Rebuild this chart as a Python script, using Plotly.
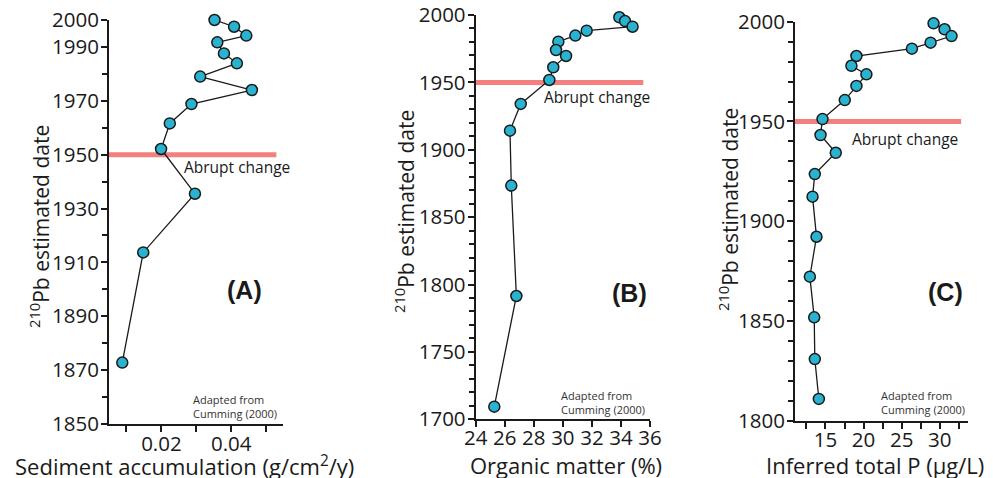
import plotly.graph_objects as go

# ---- Data ----
sed_acc = [0.0352, 0.0408, 0.0443, 0.0360, 0.0379, 0.0416, 0.0311, 0.0459,
           0.0286, 0.0224, 0.0199, 0.0296, 0.0148, 0.0088]
sed_year = [2000, 1997.5, 1994.2, 1991.7, 1987.6, 1983.9, 1979, 1974,
            1968.8, 1961.6, 1952.1, 1935.5, 1913.7, 1872.8]

org_matter = [33.89, 34.28, 34.80, 31.64, 30.86, 29.69, 29.53, 30.22,
              29.34, 29.07, 27.10, 26.36, 26.45, 26.80, 25.28]
org_year = [1998.3, 1995.5, 1991.3, 1988.4, 1984.7, 1980.2, 1974, 1969.6,
            1961.2, 1951.8, 1934, 1914.2, 1873.4, 1791.5, 1709.4]

tp = [29.18, 30.62, 31.54, 28.79, 26.34, 19.06, 18.40, 20.37, 19.06, 17.53,
      14.61, 14.35, 16.35, 13.60, 13.30, 13.82, 12.95, 13.52, 13.60, 14.13]
tp_year = [1999.2, 1996.2, 1992.8, 1989.5, 1986.5, 1982.8, 1977.9, 1973.6,
           1967.8, 1960.7, 1951.2, 1943.2, 1934.3, 1923.6, 1912.3, 1892.2,
           1872.2, 1851.8, 1830.9, 1810.9]

abrupt_year = 1950
abrupt_x_a = [0.005, 0.0529]
abrupt_x_b = [24, 35.54]
abrupt_x_c = [11, 32.8]

yticks_a = [1850, 1870, 1890, 1910, 1930, 1950, 1970, 1990, 2000]
xticks_a = [0.02, 0.04]
xticklabels_a = ["0.02", "0.04"]
yticks_b = [1700, 1750, 1800, 1850, 1900, 1950, 2000]
xticks_b = [24, 26, 28, 30, 32, 34, 36]
yticks_c = [1800, 1850, 1900, 1950, 2000]
xticks_c = [15, 20, 25, 30]

# ---- Styling ----
OFF = 8  # page body margin
W, H = 993 - OFF, 478 - OFF
FONT = "Open Sans"
AXC = "#1a1a1a"
MARK = "#29B3D1"
RED = "#F47F7F"


def px(x):
    return (x - OFF) / W


def py(y):
    return 1 - (y - OFF) / H


fig = go.Figure()

panels = [
    dict(x=sed_acc, y=sed_year, rx=abrupt_x_a, xa="x", ya="y"),
    dict(x=org_matter, y=org_year, rx=abrupt_x_b, xa="x2", ya="y2"),
    dict(x=tp, y=tp_year, rx=abrupt_x_c, xa="x3", ya="y3"),
]

for p in panels:
    fig.add_trace(go.Scatter(x=p["rx"], y=[abrupt_year, abrupt_year], mode="lines",
                             line=dict(color=RED, width=5), xaxis=p["xa"], yaxis=p["ya"],
                             hoverinfo="skip", showlegend=False, cliponaxis=False))
    fig.add_trace(go.Scatter(x=p["x"], y=p["y"], mode="lines+markers",
                             line=dict(color=AXC, width=1.3),
                             marker=dict(size=11, color=MARK, line=dict(color=AXC, width=1.5)),
                             xaxis=p["xa"], yaxis=p["ya"], showlegend=False, cliponaxis=False))

tickfont = dict(family=FONT, size=20.5, color=AXC)
common = dict(showline=True, linecolor=AXC, linewidth=2, ticks="outside", ticklen=6,
              tickwidth=1.5, tickcolor=AXC, showgrid=False, zeroline=False,
              tickfont=tickfont, fixedrange=True, automargin=False,
              ticklabeloverflow="allow")
minor_y = dict(dtick=10, ticklen=5, tickwidth=1.5, tickcolor=AXC, ticks="outside",
               showgrid=False)

fig.update_layout(
    template="none",
    width=W, height=H, margin=dict(l=0, r=0, t=0, b=0, pad=0), autosize=False,
    paper_bgcolor="white", plot_bgcolor="white",
    xaxis=dict(domain=[px(109), px(283)], range=[0.005, 0.0548], anchor="y",
               tickvals=xticks_a, ticktext=xticklabels_a, ticklabelstandoff=-6,
               minor=dict(tickvals=[0.01, 0.03, 0.05], ticklen=6, tickwidth=1.5,
                          tickcolor=AXC, ticks="outside", showgrid=False), **common),
    yaxis=dict(domain=[py(424), py(20)], range=[1850, 2000], anchor="x",
               tickvals=yticks_a, minor=minor_y, ticklabelstandoff=-2, **common),
    xaxis2=dict(domain=[px(475.7), px(650)], range=[24, 36], anchor="y2",
                tickvals=xticks_b, ticklabelstandoff=-7, **common),
    yaxis2=dict(domain=[py(419.3), py(15)], range=[1700, 2000], anchor="x2",
                tickvals=yticks_b, minor=minor_y, ticklabelstandoff=-2, **common),
    xaxis3=dict(domain=[px(795), px(968)], range=[11, 33.7], anchor="y3",
                tickvals=xticks_c, ticklabelstandoff=-6,
                minor=dict(tickvals=[12.5, 17.5, 22.5, 27.5, 32.5], ticklen=6, tickwidth=1.5,
                           tickcolor=AXC, ticks="outside", showgrid=False), **common),
    yaxis3=dict(domain=[py(420.7), py(21.7)], range=[1800, 2000], anchor="x3",
                tickvals=yticks_c, minor=minor_y, ticklabelstandoff=-2, **common),
)

ann = []
# x-axis titles
for txt, cx in [("Sediment accumulation (g/cm<sup>2</sup>/y)", 184),
                ("Organic matter (%)", 566),
                ("Inferred total P (µg/L)", 875)]:
    ann.append(dict(text=txt, x=px(cx), y=py(465), xref="paper", yref="paper",
                    showarrow=False, xanchor="center", yanchor="middle",
                    font=dict(family=FONT, size=22, color=AXC)))
# y-axis titles
for cx, cy in [(40, 227), (405, 212), (728, 210)]:
    ann.append(dict(text="<sup>210</sup>Pb estimated date", x=px(cx), y=py(cy),
                    xref="paper", yref="paper", showarrow=False, textangle=-90,
                    xanchor="center", yanchor="middle",
                    font=dict(family=FONT, size=21, color=AXC)))
# "Abrupt change"
for cx, cy in [(237, 167), (597, 97), (905, 139)]:
    ann.append(dict(text="Abrupt change", x=px(cx), y=py(cy), xref="paper", yref="paper",
                    showarrow=False, xanchor="center", yanchor="middle",
                    font=dict(family=FONT, size=15.5, color=AXC)))
# panel labels
for txt, cx, cy in [("(A)", 244, 290), ("(B)", 629, 293), ("(C)", 945, 292)]:
    ann.append(dict(text="<b>%s</b>" % txt, x=px(cx), y=py(cy), xref="paper", yref="paper",
                    showarrow=False, xanchor="center", yanchor="middle",
                    font=dict(family="Liberation Sans", size=25, color=AXC)))
# source note
for cx, cy in [(235, 406), (603, 402), (923, 402)]:
    ann.append(dict(text="Adapted from<br>Cumming (2000)", x=px(cx), y=py(cy),
                    xref="paper", yref="paper", showarrow=False, xanchor="center",
                    yanchor="middle", align="left",
                    font=dict(family=FONT, size=11, color="#333")))
fig.update_layout(annotations=ann)

fig.write_html("out.html")
